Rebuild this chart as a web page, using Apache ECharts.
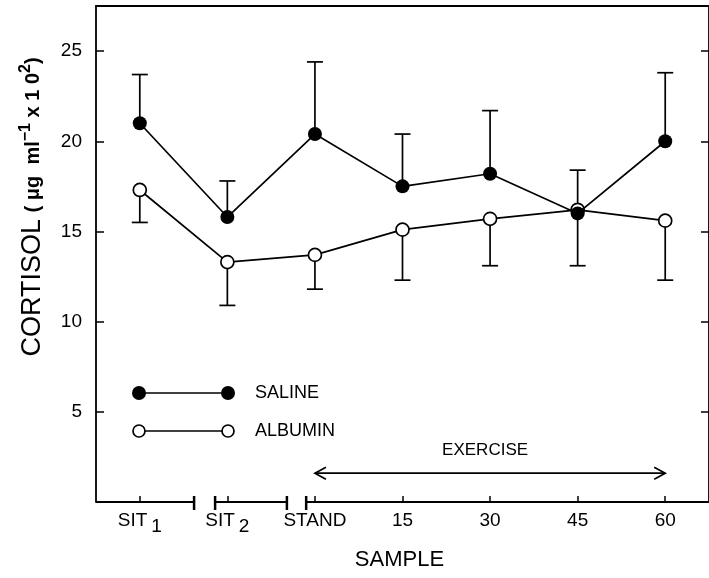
<!DOCTYPE html>
<html>
<head>
<meta charset="utf-8">
<title>Cortisol - saline vs albumin</title>
<script src="https://cdn.jsdelivr.net/npm/echarts@6/dist/echarts.min.js"></script>
<style>html,body{margin:0;background:#fff;}</style>
</head>
<body>
<div id="main" style="width:709px;height:578px;"></div>
<script>
var categories = ['SIT1', 'SIT2', 'STAND', '15', '30', '45', '60'];
var salineMean = [21.0, 15.8, 20.4, 17.5, 18.2, 16.0, 20.0];
var salineUpper = [23.7, 17.8, 24.4, 20.4, 21.7, 18.4, 23.8];
var albuminMean = [17.3, 13.3, 13.7, 15.1, 15.7, 16.2, 15.6];
var albuminLower = [15.5, 10.9, 11.8, 12.3, 13.1, 13.1, 12.3];
var yTicks = [5, 10, 15, 20, 25];
// pieces of the broken x axis, in category units
var axisPieces = [[-0.5, 0.62], [0.86, 1.68], [1.9, 6.5]];
// exercise arrow: from, to, height
var exerciseArrow = [[2, 6, 1.6]];

var FONT = 'Liberation Sans';
var myChart = echarts.init(document.getElementById('main'));

function errorBar(params, api) {
    var x = api.value(0);
    var p0 = api.coord([x, api.value(1)]);
    var p1 = api.coord([x, api.value(2)]);
    var st = { stroke: '#000', lineWidth: 1.7 };
    return {
        type: 'group',
        children: [
            { type: 'line', shape: { x1: p0[0], y1: p0[1], x2: p1[0], y2: p1[1] }, style: st },
            { type: 'line', shape: { x1: p1[0] - 8, y1: p1[1], x2: p1[0] + 8, y2: p1[1] }, style: st }
        ]
    };
}

function axisPiece(params, api) {
    var a = api.coord([api.value(0), 0]);
    var b = api.coord([api.value(1), 0]);
    var st = { stroke: '#000', lineWidth: 1.8 };
    var bar = { stroke: '#000', lineWidth: 2.5 };
    var kids = [{ type: 'line', shape: { x1: a[0], y1: a[1], x2: b[0], y2: b[1] }, style: st }];
    if (api.value(0) > -0.5) kids.push({ type: 'line', shape: { x1: a[0], y1: a[1] - 6, x2: a[0], y2: a[1] + 8 }, style: bar });
    if (api.value(1) < 6.5) kids.push({ type: 'line', shape: { x1: b[0], y1: b[1] - 6, x2: b[0], y2: b[1] + 8 }, style: bar });
    return { type: 'group', children: kids };
}

function arrow(params, api) {
    var a = api.coord([api.value(0), api.value(2)]);
    var b = api.coord([api.value(1), api.value(2)]);
    var st = { stroke: '#000', lineWidth: 1.7, fill: null };
    return {
        type: 'group',
        children: [
            { type: 'line', shape: { x1: a[0], y1: a[1], x2: b[0], y2: b[1] }, style: st },
            { type: 'polyline', shape: { points: [[a[0] + 11, a[1] - 6], [a[0], a[1]], [a[0] + 11, a[1] + 6]] }, style: st },
            { type: 'polyline', shape: { points: [[b[0] - 11, b[1] - 6], [b[0], b[1]], [b[0] - 11, b[1] + 6]] }, style: st },
            { type: 'text', x: (a[0] + b[0]) / 2 - 5, y: a[1] - 23, style: { text: 'EXERCISE', fontSize: 17, fontFamily: FONT, fill: '#000', align: 'center', verticalAlign: 'middle' } }
        ]
    };
}

var option = {
    backgroundColor: '#fff',
    animation: false,
    grid: { left: 96, right: -4, top: 6, bottom: 76 },
    xAxis: [{
        type: 'category',
        data: categories,
        boundaryGap: true,
        axisLine: { show: false, onZero: false },
        axisTick: { show: true, inside: true, length: 6, alignWithLabel: true, lineStyle: { color: '#000', width: 1.5 } },
        axisLabel: {
            margin: 9,
            formatter: function (v) {
                if (v === 'SIT1') return '{a|SIT}{s|1}';
                if (v === 'SIT2') return '{a|SIT}{s|2}';
                return '{a|' + v + '}';
            },
            rich: {
                a: { fontSize: 19, fontFamily: FONT, color: '#000', verticalAlign: 'top' },
                s: { fontSize: 19, fontFamily: FONT, color: '#000', verticalAlign: 'top', padding: [6, 0, 0, 4] }
            }
        },
        name: 'SAMPLE',
        nameLocation: 'middle',
        nameGap: 47,
        nameTextStyle: { fontSize: 22, fontFamily: FONT, color: '#000', padding: [0, 6, 0, 0] }
    }, {
        type: 'value',
        position: 'top',
        min: -0.5,
        max: 6.5,
        axisLine: { show: true, onZero: false, lineStyle: { color: '#000', width: 1.8 } },
        axisTick: { show: false },
        axisLabel: { show: false },
        splitLine: { show: false }
    }],
    yAxis: [{
        type: 'value',
        min: 0,
        max: 27.5,
        interval: 5,
        axisLine: { show: true, onZero: false, lineStyle: { color: '#000', width: 1.8 } },
        axisTick: { show: true, inside: true, length: 8, lineStyle: { color: '#000', width: 1.5 } },
        axisLabel: {
            margin: 14,
            fontSize: 19,
            fontFamily: FONT,
            color: '#000',
            formatter: function (v) { return yTicks.indexOf(v) >= 0 ? String(v) : ''; }
        },
        splitLine: { show: false }
    }, {
        type: 'value',
        position: 'right',
        min: 0,
        max: 27.5,
        interval: 5,
        axisLine: { show: true, onZero: false, lineStyle: { color: '#000', width: 1.8 } },
        axisTick: { show: true, inside: true, length: 8, lineStyle: { color: '#000', width: 1.5 } },
        axisLabel: { show: false },
        splitLine: { show: false }
    }],
    graphic: [
        {
            type: 'text', x: 33, y: 207, rotation: Math.PI / 2,
            style: {
                text: '{c|CORTISOL}  {u|( μg  ml}{p|−1}{u| x 1 0}{p|2}{u|)}',
                align: 'center', verticalAlign: 'middle',
                rich: {
                    c: { fontSize: 27, fontFamily: FONT, fill: '#000' },
                    u: { fontSize: 20, fontWeight: 'bold', fontFamily: FONT, fill: '#000' },
                    p: { fontSize: 16, fontWeight: 'bold', fontFamily: FONT, fill: '#000', padding: [0, 0, 15, 0] }
                }
            }
        },
        // legend
        { type: 'line', shape: { x1: 139, y1: 393, x2: 228, y2: 393 }, style: { stroke: '#000', lineWidth: 1.7 } },
        { type: 'circle', shape: { cx: 139, cy: 393, r: 7 }, style: { fill: '#000' } },
        { type: 'circle', shape: { cx: 228, cy: 393, r: 7 }, style: { fill: '#000' } },
        { type: 'text', x: 255, y: 393, style: { text: 'SALINE', fontSize: 18, fontFamily: FONT, fill: '#000', verticalAlign: 'middle' } },
        { type: 'line', shape: { x1: 139, y1: 431, x2: 228, y2: 431 }, style: { stroke: '#000', lineWidth: 1.7 } },
        { type: 'circle', shape: { cx: 139, cy: 431, r: 6 }, style: { fill: '#fff', stroke: '#000', lineWidth: 1.7 } },
        { type: 'circle', shape: { cx: 228, cy: 431, r: 6 }, style: { fill: '#fff', stroke: '#000', lineWidth: 1.7 } },
        { type: 'text', x: 255, y: 431, style: { text: 'ALBUMIN', fontSize: 18, fontFamily: FONT, fill: '#000', verticalAlign: 'middle' } }
    ],
    series: [{
        name: 'axis',
        type: 'custom',
        xAxisIndex: 1,
        yAxisIndex: 0,
        clip: false,
        silent: true,
        renderItem: axisPiece,
        data: axisPieces,
        z: 1
    }, {
        name: 'exercise',
        type: 'custom',
        xAxisIndex: 1,
        yAxisIndex: 0,
        silent: true,
        renderItem: arrow,
        data: exerciseArrow,
        z: 1
    }, {
        name: 'saline err',
        type: 'custom',
        renderItem: errorBar,
        data: categories.map(function (c, i) { return [i, salineMean[i], salineUpper[i]]; }),
        z: 2
    }, {
        name: 'albumin err',
        type: 'custom',
        renderItem: errorBar,
        data: categories.map(function (c, i) { return [i, albuminMean[i], albuminLower[i]]; }),
        z: 2
    }, {
        name: 'ALBUMIN',
        type: 'line',
        data: albuminMean,
        symbol: 'circle',
        symbolSize: 13,
        lineStyle: { color: '#000', width: 1.7 },
        itemStyle: { color: '#fff', borderColor: '#000', borderWidth: 1.7 },
        z: 3
    }, {
        name: 'SALINE',
        type: 'line',
        data: salineMean,
        symbol: 'circle',
        symbolSize: 14,
        lineStyle: { color: '#000', width: 1.7 },
        itemStyle: { color: '#000', borderWidth: 0 },
        z: 4
    }]
};
myChart.setOption(option);
</script>
</body>
</html>
